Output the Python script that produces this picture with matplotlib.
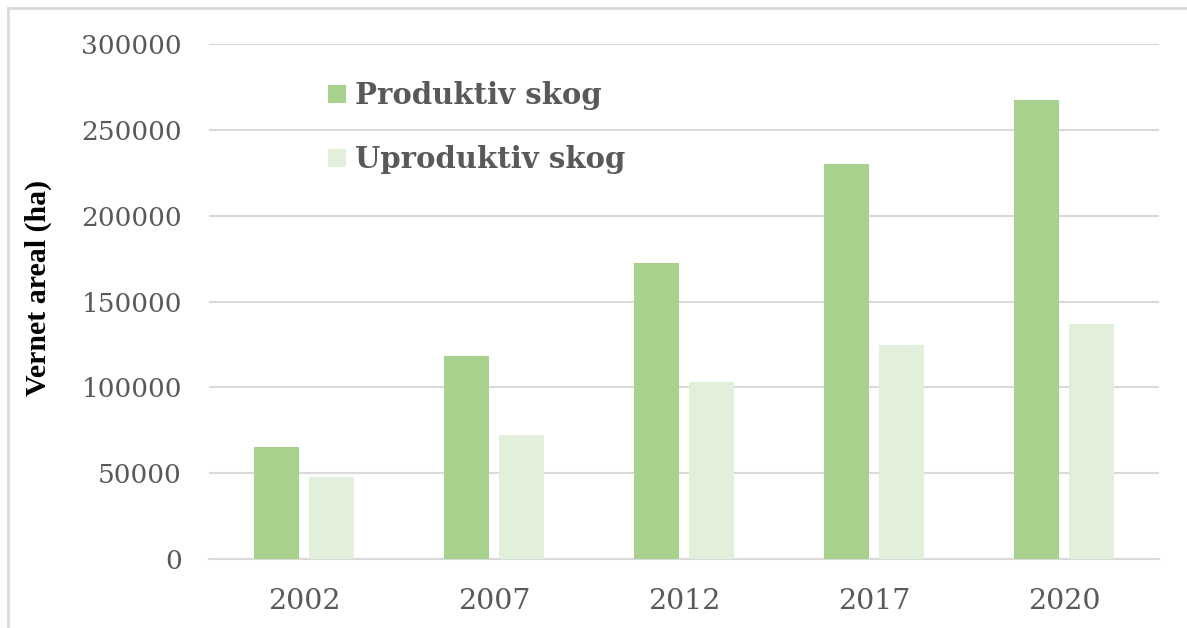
import numpy as np
import matplotlib.pyplot as plt
from matplotlib.lines import Line2D

# Data
years = ["2002", "2007", "2012", "2017", "2020"]
produktiv = [65500, 118000, 172500, 230000, 267500]
uproduktiv = [48000, 72000, 103000, 124500, 137000]
yticks = [0, 50000, 100000, 150000, 200000, 250000, 300000]

GREEN = "#A9D18E"
LIGHT = "#E2EFDA"
GRID = "#D9D9D9"
TEXT = "#595959"

W, H = 1187, 628
fig = plt.figure(figsize=(W / 100, H / 100), dpi=100)
ax = fig.add_axes([209 / W, 1 - 559 / H, 950 / W, 515 / H])

x = np.arange(len(years))
bw = 0.237
gap = 0.05
ax.bar(x - (bw + gap) / 2, produktiv, width=bw, color=GREEN, label="Produktiv skog", zorder=3)
ax.bar(x + (bw + gap) / 2, uproduktiv, width=bw, color=LIGHT, label="Uproduktiv skog", zorder=3)

ax.set_xlim(-0.5, len(years) - 0.5)
ax.set_ylim(0, 300000)
ax.set_yticks(yticks)
ax.set_yticklabels([str(v) for v in yticks])
ax.set_xticks(x)
ax.set_xticklabels(years)
ax.yaxis.grid(True, color=GRID, lw=1.5, zorder=0)
ax.set_axisbelow(True)
for s in ["top", "right", "left"]:
    ax.spines[s].set_visible(False)
ax.spines["bottom"].set_color(GRID)
ax.spines["bottom"].set_linewidth(1.5)
ax.tick_params(length=0)
ax.tick_params(axis="y", pad=19.5)
ax.tick_params(axis="x", pad=21)
for lab in ax.get_yticklabels():
    lab.set_fontfamily("DejaVu Serif")
    lab.set_fontsize(19)
    lab.set_color(TEXT)
for lab in ax.get_xticklabels():
    lab.set_fontfamily("DejaVu Serif")
    lab.set_fontsize(20.5)
    lab.set_color(TEXT)

fig.text(38 / W, 1 - 288 / H, "Vernet areal (ha)", rotation=90, ha="center", va="center",
         fontsize=21.5, fontweight="bold", family="Liberation Serif", color="black")

handles, labels = ax.get_legend_handles_labels()
leg = ax.legend(handles, labels, loc="upper left", bbox_to_anchor=(302 / W, 1 - 55 / H),
                bbox_transform=fig.transFigure, frameon=False, handlelength=0.62,
                handleheight=0.62, handletextpad=0.3, labelspacing=1.2,
                prop={"family": "DejaVu Serif", "weight": "bold", "size": 21})
for t in leg.get_texts():
    t.set_color(TEXT)

# thin frame lines on top and left edge
fig.add_artist(Line2D([8 / W, 1], [1 - 8 / H, 1 - 8 / H], transform=fig.transFigure, color="#D9D9D9", lw=2))
fig.add_artist(Line2D([8 / W, 8 / W], [0, 1 - 8 / H], transform=fig.transFigure, color="#D9D9D9", lw=2))

fig.savefig("out.png", dpi=100)
